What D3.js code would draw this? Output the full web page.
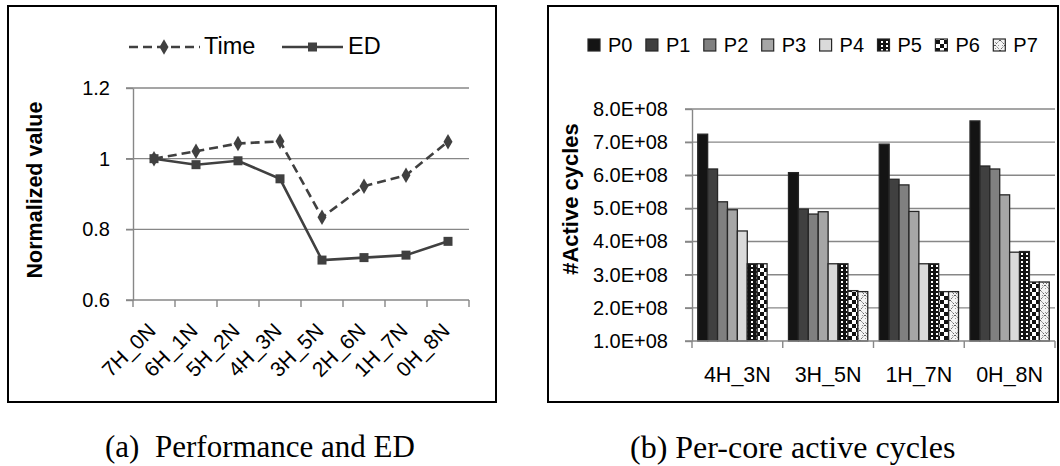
<!DOCTYPE html>
<html>
<head>
<meta charset="utf-8">
<script src="https://cdn.jsdelivr.net/npm/d3@7"></script>
<style>
  html, body { margin: 0; padding: 0; background: #fff; }
  svg { display: block; }
  text { font-family: "Liberation Sans", Arial, sans-serif; fill: #000; }
  .cap { font-family: "Liberation Serif", "Times New Roman", serif; }
</style>
</head>
<body>
<svg id="fig" width="1060" height="466"></svg>
<script>
// ---- Panel (a): normalized execution time and energy-delay ----
const configs = ["7H_0N", "6H_1N", "5H_2N", "4H_3N", "3H_5N", "2H_6N", "1H_7N", "0H_8N"];
const timeValues = [1.000, 1.021, 1.043, 1.049, 0.834, 0.922, 0.953, 1.048];
const edValues   = [1.000, 0.983, 0.994, 0.943, 0.713, 0.720, 0.727, 0.766];
const normTicks  = [0.6, 0.8, 1.0, 1.2];

// ---- Panel (b): active cycles per core ----
const groups = ["4H_3N", "3H_5N", "1H_7N", "0H_8N"];
const cores  = ["P0", "P1", "P2", "P3", "P4", "P5", "P6", "P7"];
const P0 = [7.24e8, 6.08e8, 6.94e8, 7.64e8];
const P1 = [6.19e8, 4.98e8, 5.88e8, 6.28e8];
const P2 = [5.20e8, 4.83e8, 5.71e8, 6.19e8];
const P3 = [4.96e8, 4.90e8, 4.91e8, 5.41e8];
const P4 = [4.32e8, 3.33e8, 3.33e8, 3.68e8];
const P5 = [3.33e8, 3.33e8, 3.33e8, 3.70e8];
const P6 = [3.33e8, 2.52e8, 2.49e8, 2.78e8];
const P7 = [null,   2.49e8, 2.49e8, 2.78e8];
const cycleTicks = [1e8, 2e8, 3e8, 4e8, 5e8, 6e8, 7e8, 8e8];

const svg = d3.select("#fig");
const gridColor = "#878787";
const lineColor = "#404040";
const sans = "Liberation Sans, Arial, sans-serif";

// ---------- shared fills for the cores ----------
const defs = svg.append("defs");
// P5: black with small white dots
const pDots = defs.append("pattern").attr("id", "pat-dots")
  .attr("patternUnits", "userSpaceOnUse").attr("width", 5).attr("height", 4);
pDots.append("rect").attr("width", 5).attr("height", 4).attr("fill", "#111");
pDots.append("rect").attr("x", 1).attr("y", 1).attr("width", 2).attr("height", 2).attr("fill", "#fff");
// P6: checkerboard
const pCheck = defs.append("pattern").attr("id", "pat-check")
  .attr("patternUnits", "userSpaceOnUse").attr("width", 8).attr("height", 8);
pCheck.append("rect").attr("width", 8).attr("height", 8).attr("fill", "#fff");
pCheck.append("rect").attr("width", 4).attr("height", 4).attr("fill", "#111");
pCheck.append("rect").attr("x", 4).attr("y", 4).attr("width", 4).attr("height", 4).attr("fill", "#111");
// P7: light speckle with crossing diagonals
const pSpeck = defs.append("pattern").attr("id", "pat-speck")
  .attr("patternUnits", "userSpaceOnUse").attr("width", 10).attr("height", 10);
pSpeck.append("rect").attr("width", 10).attr("height", 10).attr("fill", "#f4f4f4");
pSpeck.append("path").attr("d", "M0,0L10,10M10,0L0,10")
  .attr("stroke", "#555").attr("stroke-width", 1).attr("stroke-dasharray", "2,1.5");
[[2, 5], [5, 2], [8, 5], [5, 8], [1, 1], [8, 8]].forEach(([x, y]) =>
  pSpeck.append("rect").attr("x", x).attr("y", y).attr("width", 1).attr("height", 1).attr("fill", "#999"));

const coreFill = d3.scaleOrdinal().domain(cores).range([
  "#141414", "#404040", "#808080", "#a6a6a6", "#dadada",
  "url(#pat-dots)", "url(#pat-check)", "url(#pat-speck)"
]);

// ---------- panel frames ----------
svg.append("rect").attr("x", 8).attr("y", 6).attr("width", 488).attr("height", 396)
  .attr("fill", "none").attr("stroke", "#000").attr("stroke-width", 2);
svg.append("rect").attr("x", 548).attr("y", 6).attr("width", 510).attr("height", 396)
  .attr("fill", "none").attr("stroke", "#000").attr("stroke-width", 2);

// =============== Panel (a) ===============
const xL = d3.scaleBand().domain(configs).range([133, 469]);
const yL = d3.scaleLinear().domain([0.6, 1.2]).range([300, 88]);
const gA = svg.append("g");

// horizontal gridlines
gA.selectAll("line.grid").data(normTicks.slice(1)).join("line")
  .attr("x1", 126).attr("x2", 469)
  .attr("y1", d => yL(d)).attr("y2", d => yL(d))
  .attr("stroke", gridColor).attr("stroke-width", 1.4);

// y axis with ticks and labels
const yAxisL = gA.append("g").attr("transform", "translate(133,0)")
  .call(d3.axisLeft(yL).tickValues(normTicks).tickSize(7).tickSizeOuter(0).tickPadding(16)
    .tickFormat(d => d === 1 ? "1" : d3.format(".1f")(d)));
yAxisL.selectAll("path, line").attr("stroke", gridColor).attr("stroke-width", 1.4);
yAxisL.selectAll("text").attr("font-size", 20).attr("font-family", sans).attr("fill", "#000");

// x axis line, boundary ticks and rotated labels
gA.append("line").attr("x1", 126).attr("x2", 469).attr("y1", yL(0.6)).attr("y2", yL(0.6))
  .attr("stroke", gridColor).attr("stroke-width", 1.4);
const boundsL = configs.map(c => xL(c)).concat([xL.range()[1]]);
gA.selectAll("line.xt").data(boundsL).join("line")
  .attr("x1", d => d).attr("x2", d => d).attr("y1", yL(0.6)).attr("y2", yL(0.6) + 7)
  .attr("stroke", gridColor).attr("stroke-width", 1.4);
gA.selectAll("text.xl").data(configs).join("text")
  .attr("text-anchor", "end").attr("font-size", 21)
  .attr("transform", d => `translate(${xL(d) + xL.bandwidth() / 2 + 3},332) rotate(-45)`)
  .text(d => d);

// lines and markers
const cx = (d, i) => xL(configs[i]) + xL.bandwidth() / 2;
const line = d3.line().x((d, i) => cx(d, i)).y(d => yL(d));
gA.append("path").datum(timeValues).attr("d", line)
  .attr("fill", "none").attr("stroke", lineColor).attr("stroke-width", 2.6).attr("stroke-dasharray", "9,5");
gA.append("path").datum(edValues).attr("d", line)
  .attr("fill", "none").attr("stroke", lineColor).attr("stroke-width", 2.6);
const diamond = d3.symbol().type(d3.symbolDiamond).size(70);
gA.selectAll("path.tm").data(timeValues).join("path")
  .attr("d", diamond).attr("fill", lineColor)
  .attr("transform", (d, i) => `translate(${cx(d, i)},${yL(d)})`);
gA.selectAll("rect.em").data(edValues).join("rect")
  .attr("x", (d, i) => cx(d, i) - 4.5).attr("y", d => yL(d) - 4.5)
  .attr("width", 9).attr("height", 9).attr("fill", lineColor);

// y title
gA.append("text").attr("transform", "translate(42,190) rotate(-90)")
  .attr("text-anchor", "middle").attr("font-size", 21.5).attr("font-weight", "bold")
  .text("Normalized value");

// legend
const legA = gA.append("g");
legA.append("line").attr("x1", 129).attr("x2", 200).attr("y1", 47).attr("y2", 47)
  .attr("stroke", lineColor).attr("stroke-width", 2.6).attr("stroke-dasharray", "9,5");
legA.append("path").attr("d", diamond).attr("fill", lineColor).attr("transform", "translate(164,47)");
legA.append("text").attr("x", 204).attr("y", 54).attr("font-size", 23.5).text("Time");
legA.append("line").attr("x1", 282).attr("x2", 343).attr("y1", 47).attr("y2", 47)
  .attr("stroke", lineColor).attr("stroke-width", 2.6);
legA.append("rect").attr("x", 308).attr("y", 42.5).attr("width", 9).attr("height", 9).attr("fill", lineColor);
legA.append("text").attr("x", 348).attr("y", 54).attr("font-size", 23.5).text("ED");

// caption
const capA = svg.append("text").attr("class", "cap").attr("y", 457).attr("font-size", 31);
capA.append("tspan").attr("x", 105).text("(a)");
capA.append("tspan").attr("x", 155).text("Performance and ED");

// =============== Panel (b) ===============
const xR = d3.scaleBand().domain(groups).range([692, 1055]);
const xIn = d3.scaleBand().domain(cores).range([0, xR.bandwidth()]).paddingInner(0).paddingOuter(0.58);
const yR = d3.scaleLinear().domain([1e8, 8e8]).range([341, 109]);
const gB = svg.append("g");

gB.selectAll("line.grid").data(cycleTicks.slice(1)).join("line")
  .attr("x1", 685).attr("x2", 1055)
  .attr("y1", d => yR(d)).attr("y2", d => yR(d))
  .attr("stroke", gridColor).attr("stroke-width", 1.4);

const yAxisR = gB.append("g").attr("transform", "translate(692,0)")
  .call(d3.axisLeft(yR).tickValues(cycleTicks).tickSize(7).tickSizeOuter(0).tickPadding(17)
    .tickFormat(d => (d / 1e8).toFixed(1) + "E+08"));
yAxisR.selectAll("path, line").attr("stroke", gridColor).attr("stroke-width", 1.4);
yAxisR.selectAll("text").attr("font-size", 20).attr("font-family", sans).attr("fill", "#000");

// bars
const seriesByCore = { P0, P1, P2, P3, P4, P5, P6, P7 };
const barData = [];
groups.forEach((g, gi) => cores.forEach(c => {
  const v = seriesByCore[c][gi];
  if (v != null) barData.push({ g, c, v });
}));
gB.selectAll("rect.bar").data(barData).join("rect")
  .attr("x", d => xR(d.g) + xIn(d.c))
  .attr("width", xIn.bandwidth())
  .attr("y", d => yR(d.v))
  .attr("height", d => yR(1e8) - yR(d.v))
  .attr("fill", d => coreFill(d.c))
  .attr("stroke", "#262626").attr("stroke-width", 1.3);

// x axis
gB.append("line").attr("x1", 685).attr("x2", 1055).attr("y1", yR(1e8)).attr("y2", yR(1e8))
  .attr("stroke", gridColor).attr("stroke-width", 1.4);
const boundsR = groups.map(g => xR(g)).concat([xR.range()[1]]);
gB.selectAll("line.xt").data(boundsR).join("line")
  .attr("x1", d => d).attr("x2", d => d).attr("y1", yR(1e8)).attr("y2", yR(1e8) + 7)
  .attr("stroke", gridColor).attr("stroke-width", 1.4);
gB.selectAll("text.xl").data(groups).join("text")
  .attr("x", d => xR(d) + xR.bandwidth() / 2).attr("y", 382)
  .attr("text-anchor", "middle").attr("font-size", 21.5).text(d => d);

// y title
gB.append("text").attr("transform", "translate(578,199) rotate(-90)")
  .attr("text-anchor", "middle").attr("font-size", 22).attr("font-weight", "bold")
  .text("#Active cycles");

// legend
const legB = gB.append("g");
const legStep = 57.9;
cores.forEach((c, i) => {
  const x0 = 588 + i * legStep;
  legB.append("rect").attr("x", x0).attr("y", 39).attr("width", 12).attr("height", 12)
    .attr("fill", coreFill(c)).attr("stroke", "#262626").attr("stroke-width", 1.2);
  legB.append("text").attr("x", x0 + 20).attr("y", 52).attr("font-size", 20).text(c);
});

// caption
svg.append("text").attr("class", "cap").attr("x", 630).attr("y", 458).attr("font-size", 32)
  .text("(b) Per-core active cycles");
</script>
</body>
</html>
